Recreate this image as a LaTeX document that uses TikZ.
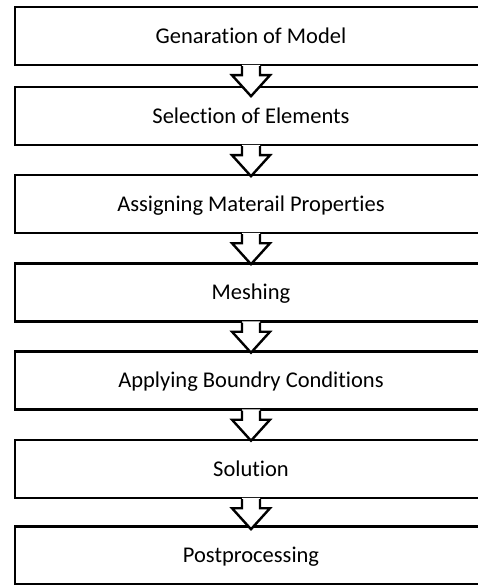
\documentclass[tikz,border=0pt]{standalone}
\usepackage{fontspec}
\setmainfont{Carlito}[Ligatures=NoCommon]
\begin{document}
\begin{tikzpicture}[x=1pt,y=-1pt,
  stagebox/.style={draw=black,line width=2.4pt,fill=white,minimum width=472pt,minimum height=58pt,
    inner sep=0pt,text height=14.5pt,text depth=0pt,font=\fontsize{22.5}{27}\selectfont},
  blockarrowline/.style={draw=black,line width=2.4pt,line join=miter}]
\useasboundingbox (0,0) rectangle (478,585);
\clip (0,0) rectangle (478,585);
\fill[white] (0,0) rectangle (478,585);
\node[stagebox] (b1) at (251,36) {Genaration of Model};
\node[stagebox] (b2) at (251,116) {Selection of Elements};
\node[stagebox] (b3) at (251,204) {Assigning Materail Properties};
\node[stagebox] (b4) at (251,292.5) {Meshing};
\node[stagebox] (b5) at (251,380.5) {Applying Boundry Conditions};
\node[stagebox] (b6) at (251,469) {Solution};
\node[stagebox] (b7) at (251,555.5) {Postprocessing};
\foreach \a/\b in {b1/b2,b2/b3,b3/b4,b4/b5,b5/b6,b6/b7}{
  \fill[white] (\a.south) ++(-9,-1.3) -- ++(0,10.3) -- ++(-10,0) -- ++(19,21) -- ++(19,-21) -- ++(-10,0) -- ++(0,-10.3) -- cycle;
  \draw[blockarrowline] (\a.south) ++(-9,0) -- ++(0,9) -- ++(-10,0) -- ++(19,21) -- ++(19,-21) -- ++(-10,0) -- ++(0,-9);
}
\end{tikzpicture}
\end{document}
